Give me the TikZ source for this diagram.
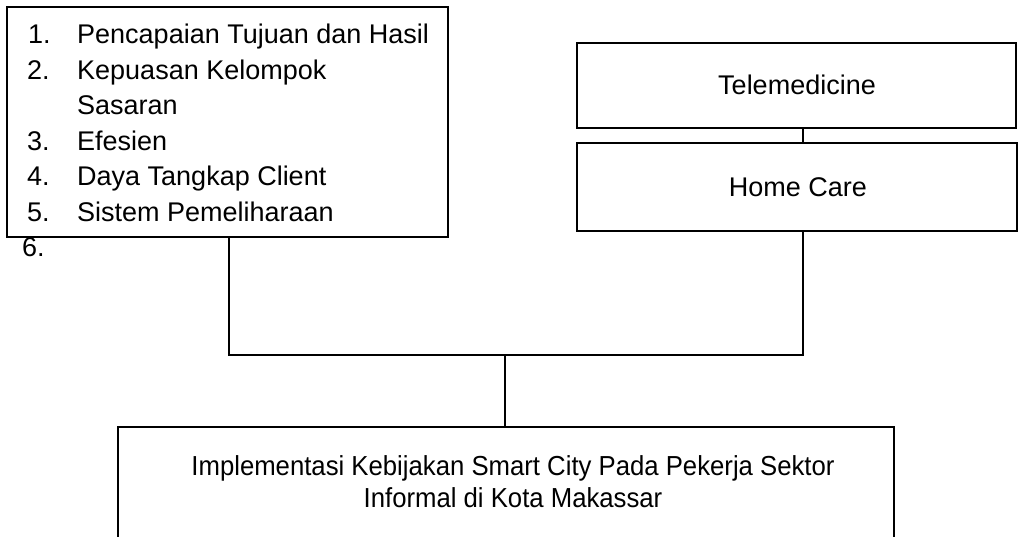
\documentclass[tikz,border=0pt]{standalone}
\usepackage{fontspec}
\setmainfont{Liberation Sans}
\tikzset{
  box/.style={draw=black, line width=1.7pt, inner sep=0pt, fill=none},
  conn/.style={draw=black, line width=1.7pt},
  lbl/.style={inner sep=0pt, font=\fontsize{27}{32}\selectfont},
  item/.style={lbl, anchor=base west},
}
\begin{document}
\begin{tikzpicture}[x=1pt,y=-1pt]
\useasboundingbox (0,0) rectangle (1023,536);
\clip (0,0) rectangle (1023,536);
% boxes
\node[box, minimum width=441pt, minimum height=230pt] (lb) at (227.5,122) {};
\node[box, minimum width=439pt, minimum height=85pt] (tm) at (796.5,85.5) {};
\node[box, minimum width=440pt, minimum height=88pt] (hc) at (797,187) {};
\node[box, minimum width=776pt, minimum height=160pt] (bb) at (506,507) {};
% texts
\node[lbl] (tmt) at (797,85) {Telemedicine};
\node[lbl] (hct) at (798,187) {Home Care};
\node[item] (n1) at (28,43.5) {1.};
\node[item] (t1) at (77,43.5) {Pencapaian Tujuan dan Hasil};
\node[item] (n2) at (27,79) {2.};
\node[item] (t2) at (77,79) {Kepuasan Kelompok};
\node[item] (t2b) at (77,114.5) {Sasaran};
\node[item] (n3) at (27,150) {3.};
\node[item] (t3) at (77,150) {Efesien};
\node[item] (n4) at (27,185.5) {4.};
\node[item] (t4) at (77,185.5) {Daya Tangkap Client};
\node[item] (n5) at (27,221) {5.};
\node[item] (t5) at (77,221) {Sistem Pemeliharaan};
\node[item] (n6) at (22,256) {6.};
\node[inner sep=0pt, align=center, font=\fontsize{27.5}{32}\selectfont] (bt) at (513,482)
  {\scalebox{0.935}[1]{Implementasi Kebijakan Smart City Pada Pekerja Sektor}\\
   \scalebox{0.935}[1]{Informal di Kota Makassar}};
% connectors
\coordinate (jl) at (229,355);
\coordinate (jr) at (803,355);
\coordinate (jm) at (505,355);
\draw[conn] (tm.south -| jr) -- (hc.north -| jr);
\draw[conn] (lb.south -| jl) -- (jl) -- (jr) -- (hc.south -| jr);
\draw[conn] (jm) -- (bb.north -| jm);
\end{tikzpicture}
\end{document}
